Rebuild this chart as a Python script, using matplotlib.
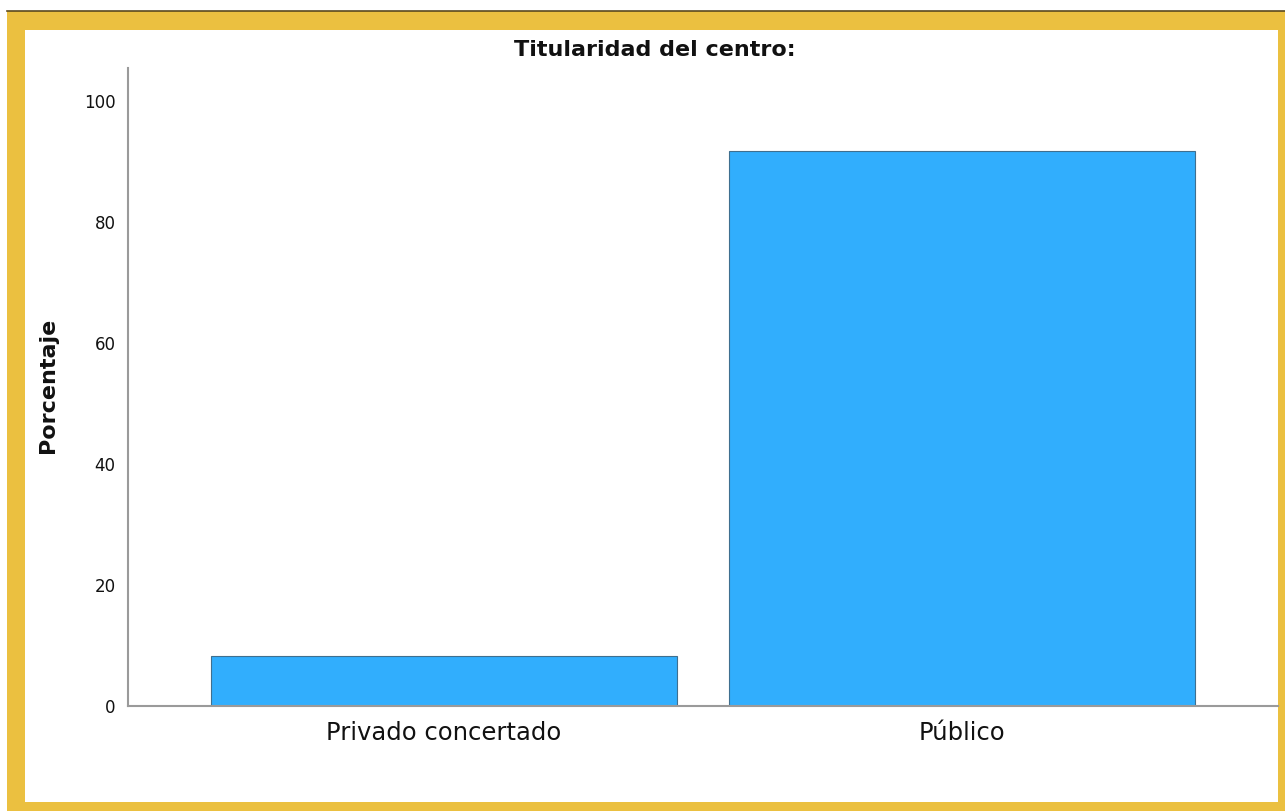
import matplotlib
matplotlib.use("Agg")
import matplotlib.pyplot as plt
from matplotlib.patches import Rectangle

categories = ["Privado concertado", "Público"]
percentages = [8.2, 91.8]
yticks = [0, 20, 40, 60, 80, 100]

W, H = 1285, 811
fig = plt.figure(figsize=(W / 100, H / 100), dpi=100)
fig.patch.set_facecolor("white")

yellow = "#EBC040"


def px_rect(x0, y0, x1, y1, **kw):
    # pixel coords, origin at top-left
    fig.patches.append(Rectangle((x0 / W, 1 - y1 / H), (x1 - x0) / W, (y1 - y0) / H,
                                 transform=fig.transFigure, figure=fig, **kw))


# yellow frame round the white chart area
px_rect(7, 11, W, H, facecolor=yellow, edgecolor="none", zorder=-2)
px_rect(25, 30, 1278, 802, facecolor="white", edgecolor="none", zorder=-1)
fig.add_artist(plt.Line2D([7 / W, 1], [1 - 11 / H, 1 - 11 / H], transform=fig.transFigure,
                          color="#5a4a20", lw=1.2))

ax = fig.add_axes([128 / W, 1 - 706 / H, (1278 - 128) / W, (706 - 68) / H])
ax.set_facecolor("none")
x = range(len(categories))
ax.bar(x, percentages, width=0.9, color="#31AEFD", edgecolor="#3f6f8f", linewidth=0.8, zorder=2)

ax.set_xlim(-0.61, 1.61)
ax.set_ylim(0, 105.5)
ax.set_yticks(yticks)
ax.set_yticklabels([str(t) for t in yticks], fontsize=12)
ax.set_xticks(list(x))
ax.set_xticklabels(categories, fontsize=17.5)
ax.tick_params(axis="y", length=0, pad=9, colors="#111111")
ax.tick_params(axis="x", length=0, pad=11, colors="#111111")

for side in ["top", "right"]:
    ax.spines[side].set_visible(False)
for side in ["left", "bottom"]:
    ax.spines[side].set_color("#9a9a9a")
    ax.spines[side].set_linewidth(1.5)

fig.text(48 / W, 1 - 385 / H, "Porcentaje", rotation=90, ha="center", va="center",
         fontsize=16, fontweight="bold", color="#111111")
fig.text(655 / W, 1 - 50 / H, "Titularidad del centro:", ha="center", va="center",
         fontsize=16, fontweight="bold", color="#111111")

fig.savefig("out.png", dpi=100)
